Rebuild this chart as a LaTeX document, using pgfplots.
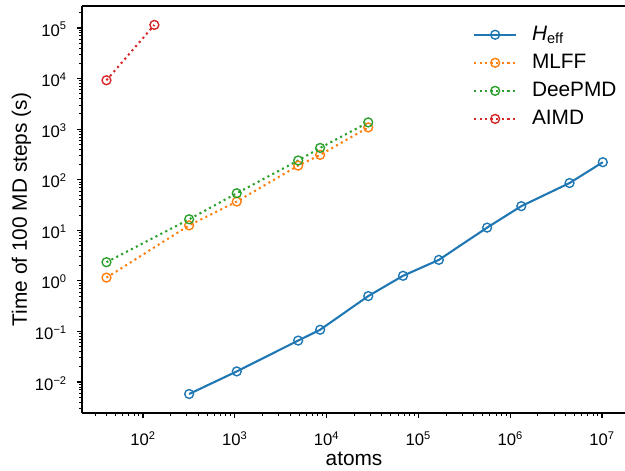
\documentclass[border=0pt]{standalone}
\usepackage{fontspec}
\setmainfont{Liberation Sans}
\usepackage{pgfplots}
\pgfplotsset{compat=1.18}
\definecolor{c0}{HTML}{1F77B4}
\definecolor{c1}{HTML}{FF7F0E}
\definecolor{c2}{HTML}{2CA02C}
\definecolor{c3}{HTML}{D62728}

\begin{document}
\begin{tikzpicture}
\begin{axis}[
    width=390.96pt, height=293.04pt, scale only axis,
    xmode=log, ymode=log,
    xmin=21.65, xmax=1.78e7,
    ymin=2.44e-3, ymax=2.72e5,
    axis x line*=box, axis y line*=left,
    axis line style={line width=0.8pt, black},
    tick pos=left, tick align=outside,
    major tick length=3.5pt, minor tick length=2pt,
    major tick style={line width=0.8pt, black},
    minor tick style={line width=0.6pt, black},
    xtick={1e2,1e3,1e4,1e5,1e6,1e7},
    xticklabels={10\textsuperscript{2},10\textsuperscript{3},10\textsuperscript{4},10\textsuperscript{5},10\textsuperscript{6},10\textsuperscript{7}},
    minor xtick={30,40,50,60,70,80,90,
        200,300,400,500,600,700,800,900,
        2e3,3e3,4e3,5e3,6e3,7e3,8e3,9e3,
        2e4,3e4,4e4,5e4,6e4,7e4,8e4,9e4,
        2e5,3e5,4e5,5e5,6e5,7e5,8e5,9e5,
        2e6,3e6,4e6,5e6,6e6,7e6,8e6,9e6},
    ytick={1e-2,1e-1,1,10,100,1e3,1e4,1e5},
    yticklabels={10\textsuperscript{−2},10\textsuperscript{−1},10\textsuperscript{0},10\textsuperscript{1},10\textsuperscript{2},10\textsuperscript{3},10\textsuperscript{4},10\textsuperscript{5}},
    minor ytick={3e-3,4e-3,5e-3,6e-3,7e-3,8e-3,9e-3,
        2e-2,3e-2,4e-2,5e-2,6e-2,7e-2,8e-2,9e-2,
        0.2,0.3,0.4,0.5,0.6,0.7,0.8,0.9,
        2,3,4,5,6,7,8,9,
        20,30,40,50,60,70,80,90,
        200,300,400,500,600,700,800,900,
        2e3,3e3,4e3,5e3,6e3,7e3,8e3,9e3,
        2e4,3e4,4e4,5e4,6e4,7e4,8e4,9e4,
        2e5},
    tick label style={font=\fontsize{12}{14}\selectfont},
    xticklabel style={anchor=base, inner sep=0pt, yshift=-20.2pt},
    yticklabel style={anchor=base east, inner sep=0pt, xshift=-7.2pt, yshift=-5.8pt},
    label style={font=\fontsize{15}{18}\selectfont},
    xlabel={atoms},
    ylabel={Time of 100 MD steps (s)},
    xlabel style={at={(axis description cs:0.501,-0.1278)}, anchor=base, inner sep=0pt},
    ylabel style={at={(axis description cs:-0.1013,0.5)}, anchor=base, inner sep=0pt},
    legend cell align=left,
    legend image code/.code={\draw[mark repeat=2,mark phase=2,#1] plot coordinates {(0pt,0pt)(15pt,0pt)(30pt,0pt)};},
    legend style={draw=none, fill=none, at={(axis description cs:0.7201,0.954)}, anchor=north west,
        inner sep=0pt, font=\fontsize{15}{18}\selectfont, column sep=10.8pt, row sep=6.2pt,
        nodes={inner sep=0pt, text height=11pt, text depth=3pt}},
    every axis plot/.append style={mark=o, mark size=3.2pt, mark options={solid, line width=1pt, fill=none}},
]
\addplot[c0, line width=1.5pt] coordinates {
    (318,0.0058) (1050,0.0162) (4900,0.066) (8500,0.108) (28400,0.50) (68000,1.26)
    (167000,2.6) (5.6e5,11.3) (1.32e6,30) (4.43e6,86) (1.02e7,222)};
\addlegendentry{\textit{H}\textsubscript{eff}}
\addplot[c1, line width=1.5pt, dash pattern=on 1.5pt off 2.475pt] coordinates {
    (40,1.16) (318,12.5) (1050,37) (4900,190) (8500,310) (28400,1080)};
\addlegendentry{MLFF}
\addplot[c2, line width=1.5pt, dash pattern=on 1.5pt off 2.475pt] coordinates {
    (40,2.34) (318,16.5) (1050,54) (4900,240) (8500,425) (28400,1360)};
\addlegendentry{DeePMD}
\addplot[c3, line width=1.5pt, dash pattern=on 1.5pt off 2.475pt] coordinates {
    (40,9250) (133,1.15e5)};
\addlegendentry{AIMD}
\end{axis}
\pgfresetboundingbox
\useasboundingbox (-59.04pt,-41.04pt) rectangle (390.96pt,297.36pt);
\end{tikzpicture}
\end{document}
